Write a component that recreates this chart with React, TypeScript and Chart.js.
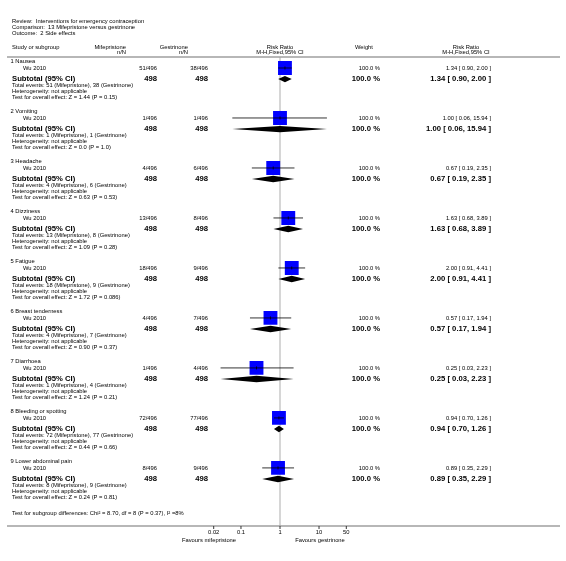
import React, { useEffect, useRef } from "react";
import { Chart, registerables } from "chart.js";
Chart.register(...registerables);

const reviewTitle = "Review:  Interventions for emergency contraception";
const comparisonTitle = "Comparison:  13 Mifepristone versus gestrinone";
const outcomeTitle = "Outcome:  2 Side effects";

const subgroups = [
  "1 Nausea",
  "2 Vomiting",
  "3 Headache",
  "4 Dizziness",
  "5 Fatigue",
  "6 Breast tenderness",
  "7 Diarrhoea",
  "8 Bleeding or spotting",
  "9 Lower abdominal pain",
];
const studyName = "Wu 2010";
const mifEvents = [51, 1, 4, 13, 18, 4, 1, 72, 8];
const gesEvents = [38, 1, 6, 8, 9, 7, 4, 77, 9];
const studyTotal = 496;
const subtotalN = 498;
const riskRatio = [1.34, 1.0, 0.67, 1.63, 2.0, 0.57, 0.25, 0.94, 0.89];
const ciLower = [0.9, 0.06, 0.19, 0.68, 0.91, 0.17, 0.03, 0.7, 0.35];
const ciUpper = [2.0, 15.94, 2.35, 3.89, 4.41, 1.94, 2.23, 1.26, 2.29];
const weights = [100, 100, 100, 100, 100, 100, 100, 100, 100];
const zValues = ["1.44", "0.0", "0.63", "1.09", "1.72", "0.90", "1.24", "0.44", "0.24"];
const pValues = ["0.15", "1.0", "0.53", "0.28", "0.086", "0.37", "0.21", "0.66", "0.81"];
const subgroupTest = "Test for subgroup differences: Chi\u00B2 = 8.70, df = 8 (P = 0.37), I\u00B2 =8%";
const axisTicks = [0.02, 0.1, 1, 10, 50];
const tickLabels = ["0.02", "0.1", "1", "10", "50"];
const favoursLeft = "Favours mifepristone";
const favoursRight = "Favours gestrinone";

const W = 566;
const H = 561;
const FONT = '"Liberation Sans", Arial, Helvetica, sans-serif';

// layout helpers (pixel rows in the y scale's units)
const studyRow = (g: number) => 60.3 + 51.8 * g;
const fmt2 = (v: number) => v.toFixed(2);
const ciText = (i: number) => `${fmt2(riskRatio[i])} [ ${fmt2(ciLower[i])}, ${fmt2(ciUpper[i])} ]`;

const forestPlugin = {
  id: "forest",
  beforeDatasetsDraw(chart: any) {
    const { ctx, scales } = chart;
    const x = scales.x;
    const y = scales.y;
    ctx.save();
    ctx.strokeStyle = "#d6d6d6";
    ctx.lineWidth = 2;
    const x1 = x.getPixelForValue(1);
    ctx.beginPath();
    ctx.moveTo(x1, y.getPixelForValue(49));
    ctx.lineTo(x1, y.getPixelForValue(535));
    ctx.stroke();
    ctx.restore();
  },
  afterDatasetsDraw(chart: any) {
    const { ctx, scales } = chart;
    const x = scales.x;
    const y = scales.y;
    ctx.save();
    for (let g = 0; g < subgroups.length; g++) {
      const py = y.getPixelForValue(studyRow(g));
      ctx.strokeStyle = "#000";
      ctx.lineWidth = 0.8;
      ctx.beginPath();
      ctx.moveTo(x.getPixelForValue(ciLower[g]), py);
      ctx.lineTo(x.getPixelForValue(ciUpper[g]), py);
      ctx.stroke();
      const pe = x.getPixelForValue(riskRatio[g]);
      ctx.beginPath();
      ctx.moveTo(pe, py - 1.5);
      ctx.lineTo(pe, py + 1.5);
      ctx.stroke();
      const dy = y.getPixelForValue(studyRow(g) + 11.5);
      ctx.fillStyle = "#000";
      ctx.beginPath();
      ctx.moveTo(x.getPixelForValue(ciLower[g]), dy);
      ctx.lineTo(pe, dy - 3.2);
      ctx.lineTo(x.getPixelForValue(ciUpper[g]), dy);
      ctx.lineTo(pe, dy + 3.2);
      ctx.closePath();
      ctx.fill();
    }
    ctx.restore();
  },
  afterDraw(chart: any) {
    const { ctx, scales } = chart;
    const x = scales.x;
    const y = scales.y;
    const Y = (v: number) => y.getPixelForValue(v);
    ctx.save();
    ctx.fillStyle = "#000";
    ctx.textBaseline = "middle";
    const small = `5.8px ${FONT}`;
    const bold = `bold 7.7px ${FONT}`;
    const text = (s: string, px: number, py: number, font: string, align: CanvasTextAlign = "left") => {
      ctx.font = font;
      ctx.textAlign = align;
      ctx.fillText(s, px, Y(py));
    };
    text(reviewTitle, 12, 12, small);
    text(comparisonTitle, 12, 18.5, small);
    text(outcomeTitle, 12, 24.5, small);
    text("Study or subgroup", 12, 38.5, small);
    text("Mifepristone", 126, 38.5, small, "right");
    text("n/N", 126, 44.5, small, "right");
    text("Gestrinone", 188, 38.5, small, "right");
    text("n/N", 188, 44.5, small, "right");
    const x1 = x.getPixelForValue(1);
    text("Risk Ratio", x1, 38.5, small, "center");
    text("M-H,Fixed,95% CI", x1, 44.5, small, "center");
    text("Weight", 355, 38.5, small);
    text("Risk Ratio", 466, 38.5, small, "center");
    text("M-H,Fixed,95% CI", 466, 44.5, small, "center");
    ctx.strokeStyle = "#a0a0a0";
    ctx.lineWidth = 1.5;
    ctx.beginPath();
    ctx.moveTo(7, Y(49));
    ctx.lineTo(560, Y(49));
    ctx.moveTo(7, Y(535));
    ctx.lineTo(560, Y(535));
    ctx.stroke();

    for (let g = 0; g < subgroups.length; g++) {
      const r = studyRow(g);
      text(subgroups[g], 10.5, r - 6.5, small);
      text(studyName, 23, r, small);
      text(`${mifEvents[g]}/${studyTotal}`, 157, r, small, "right");
      text(`${gesEvents[g]}/${studyTotal}`, 208, r, small, "right");
      text(`${weights[g].toFixed(1)} %`, 380, r, small, "right");
      text(ciText(g), 491, r, small, "right");
      text("Subtotal (95% CI)", 12, r + 11.5, bold);
      text(`${subtotalN}`, 157, r + 11.5, bold, "right");
      text(`${subtotalN}`, 208, r + 11.5, bold, "right");
      text(`${weights[g].toFixed(1)} %`, 380, r + 11.5, bold, "right");
      text(ciText(g), 491, r + 11.5, bold, "right");
      text(`Total events: ${mifEvents[g]} (Mifepristone), ${gesEvents[g]} (Gestrinone)`, 12, r + 18.5, small);
      text("Heterogeneity: not applicable", 12, r + 24.5, small);
      text(`Test for overall effect: Z = ${zValues[g]} (P = ${pValues[g]})`, 12, r + 30.5, small);
    }
    text(subgroupTest, 12, 521.5, small);

    ctx.strokeStyle = "#000";
    ctx.lineWidth = 0.8;
    axisTicks.forEach((t, i) => {
      const px = x.getPixelForValue(t);
      ctx.beginPath();
      ctx.moveTo(px, Y(535));
      ctx.lineTo(px, Y(538));
      ctx.stroke();
      text(tickLabels[i], px, 541.5, small, "center");
    });
    text(favoursLeft, 209, 549.5, small, "center");
    text(favoursRight, 320, 549.5, small, "center");
    ctx.restore();
  },
};

export default function App() {
  const ref = useRef<HTMLCanvasElement | null>(null);
  useEffect(() => {
    if (!ref.current) return;
    const chart = new Chart(ref.current, {
      type: "scatter",
      data: {
        datasets: [
          {
            label: "Wu 2010",
            data: riskRatio.map((v, g) => ({ x: v, y: studyRow(g) })),
            pointStyle: "rect",
            pointRadius: weights.map((w) => 9.8 * Math.sqrt(w / 100)),
            pointHoverRadius: 9.8,
            backgroundColor: "#0000ff",
            borderColor: "#0000ff",
            borderWidth: 0,
          },
        ],
      },
      options: {
        responsive: true,
        maintainAspectRatio: false,
        animation: false,
        events: [],
        layout: { padding: { left: 213.7, right: W - 346.3, top: 0, bottom: 0 } },
        scales: {
          x: { type: "logarithmic", min: 0.02, max: 50, display: false },
          y: { type: "linear", min: 0, max: H, reverse: true, display: false },
        },
        plugins: { legend: { display: false }, tooltip: { enabled: false } },
      },
      plugins: [forestPlugin],
    });
    return () => chart.destroy();
  }, []);
  return (
    <div style={{ position: "absolute", left: 0, top: 0, width: W, height: H, background: "#fff" }}>
      <canvas ref={ref} />
    </div>
  );
}
